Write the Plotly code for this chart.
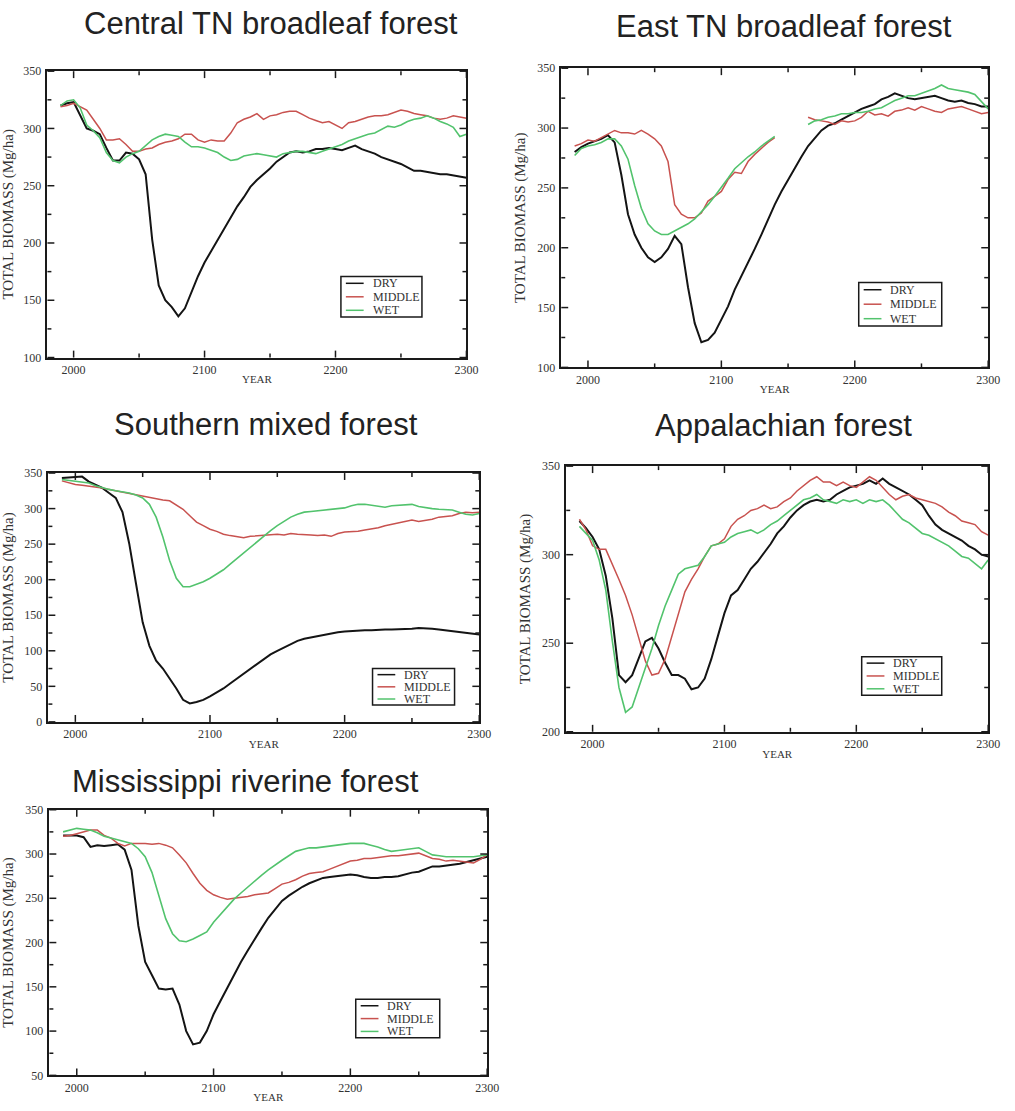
import plotly.graph_objects as go

# Simulation years (5-year steps)
YEARS = list(range(1990, 2301, 5))

# ---- Central TN broadleaf forest ----
CENTRAL_DRY = [320, 322, 323, 312, 300, 298, 295, 283, 272, 272, 279, 278, 273, 260, 203, 163,
               150, 144, 136, 143, 157, 171, 183, 193, 203, 213, 223, 232, 240, 249, 255, 260,
               265, 271, 275, 279, 280, 279, 280, 282, 282, 283, 282, 281, 283, 285, 282, 280,
               278, 275, 273, 271, 269, 266, 263, 263, 262, 261, 260, 260, 259, 258, 257]
CENTRAL_MIDDLE = [319, 320, 322, 319, 316, 308, 300, 290, 290, 291, 286, 280, 280, 282, 283, 286,
                  288, 289, 291, 295, 295, 290, 288, 290, 289, 289, 296, 305, 308, 310, 313, 308,
                  311, 312, 314, 315, 315, 312, 309, 307, 305, 306, 303, 300, 305, 306, 308, 310,
                  311, 311, 312, 314, 316, 315, 313, 312, 311, 309, 308, 309, 311, 310, 309]
CENTRAL_WET = [320, 324, 325, 318, 303, 298, 292, 279, 272, 270, 275, 278, 280, 285, 290, 293,
               295, 294, 293, 288, 284, 284, 283, 281, 279, 275, 272, 273, 276, 277, 278, 277,
               276, 275, 278, 279, 280, 280, 279, 278, 280, 282, 284, 286, 289, 291, 293, 295,
               296, 299, 302, 301, 303, 306, 308, 309, 311, 309, 306, 304, 301, 293, 295]

# ---- East TN broadleaf forest ----
EAST_DRY = [280, 284, 287, 289, 291, 294, 288, 261, 228, 211, 200, 192, 188, 192, 199, 210,
            203, 167, 137, 121, 123, 129, 140, 151, 165, 176, 187, 199, 211, 224, 236, 247,
            257, 267, 276, 285, 292, 298, 302, 304, 307, 310, 313, 316, 318, 320, 324, 326,
            329, 327, 325, 324, 325, 326, 327, 325, 323, 322, 323, 321, 320, 318, 318]
EAST_MIDDLE = [285, 287, 290, 289, 292, 295, 298, 296, 296, 295, 298, 295, 291, 285, 272, 236,
               228, 225, 225, 229, 239, 243, 247, 257, 263, 262, 272, 278, 283, 288, 292, None,
               None, None, None, 309, 307, 306, 305, 303, 306, 305, 306, 309, 314, 311, 312, 310,
               314, 315, 317, 315, 318, 316, 314, 313, 316, 317, 318, 316, 314, 312, 313]
EAST_WET = [277, 283, 285, 286, 288, 291, 291, 285, 274, 252, 233, 220, 214, 211, 211, 214,
            217, 220, 224, 230, 236, 243, 250, 258, 266, 271, 276, 280, 285, 289, 293, None,
            None, None, None, 303, 306, 307, 309, 310, 312, 312, 313, 313, 314, 316, 317, 320,
            323, 325, 327, 327, 329, 331, 333, 336, 333, 332, 331, 330, 328, 322, 316]

# ---- Southern mixed forest ----
SOUTH_DRY = [343, 344, 345, 345, 338, 334, 329, 322, 315, 295, 251, 195, 140, 107, 86, 75,
             61, 47, 31, 26, 28, 31, 36, 41, 47, 54, 61, 68, 75, 82, 89, 95,
             100, 105, 110, 114, 117, 119, 121, 123, 125, 126, 127, 128, 128, 129, 129, 130,
             130, 130, 130, 131, 131, 132, 132, 131, 130, 129, 128, 127, 125, 124, 123]
SOUTH_MIDDLE = [339, 336, 334, 333, 332, 330, 329, 327, 325, 323, 322, 320, 318, 316, 313, 312,
                311, 305, 299, 290, 281, 276, 271, 268, 264, 262, 260, 259, 261, 262, 262, 263,
                264, 263, 265, 264, 264, 263, 262, 263, 261, 265, 267, 267, 268, 270, 271, 273,
                276, 278, 281, 283, 284, 282, 283, 285, 288, 289, 290, 293, 295, 294, 295]
SOUTH_WET = [341, 340, 339, 337, 336, 332, 329, 327, 325, 324, 322, 319, 315, 306, 288, 260,
             227, 202, 190, 190, 193, 197, 202, 208, 214, 222, 230, 238, 246, 254, 262, 269,
             276, 282, 288, 292, 295, 296, 297, 298, 299, 300, 301, 304, 306, 306, 305, 303,
             302, 304, 305, 306, 306, 303, 301, 300, 299, 298, 298, 295, 292, 291, 293]

# ---- Appalachian forest ----
APPAL_DRY = [319, 315, 310, 303, 288, 264, 232, 228, 232, 241, 251, 253, 247, 239, 232, 232,
             230, 224, 225, 230, 241, 254, 267, 277, 280, 286, 292, 296, 301, 306, 312, 316,
             321, 325, 328, 330, 331, 330, 331, 334, 336, 338, 339, 340, 342, 340, 343, 340,
             338, 336, 334, 331, 328, 322, 317, 314, 312, 310, 308, 305, 303, 300, 299]
APPAL_MIDDLE = [320, 314, 305, 303, 303, 295, 286, 277, 266, 253, 240, 232, 233, 241, 254, 267,
                279, 286, 292, 299, 305, 306, 309, 316, 320, 322, 325, 326, 328, 326, 327, 330,
                332, 336, 339, 342, 344, 341, 341, 339, 341, 339, 338, 341, 344, 342, 338, 334,
                331, 333, 334, 332, 331, 330, 329, 327, 324, 322, 319, 318, 317, 313, 311]
APPAL_WET = [316, 312, 308, 297, 280, 251, 225, 211, 214, 225, 236, 247, 260, 271, 280, 289,
             292, 293, 294, 299, 305, 306, 307, 310, 312, 313, 314, 312, 314, 317, 319, 322,
             325, 328, 331, 332, 334, 331, 330, 329, 331, 330, 331, 329, 331, 330, 331, 328,
             324, 320, 318, 315, 312, 311, 309, 307, 305, 302, 299, 298, 295, 292, 297]

# ---- Mississippi riverine forest ----
MISS_DRY = [321, 321, 321, 319, 308, 310, 309, 310, 311, 305, 282, 219, 178, 163, 148, 147,
            148, 130, 100, 85, 87, 100, 119, 134, 149, 164, 178, 191, 204, 216, 228, 238,
            247, 253, 258, 263, 267, 270, 273, 274, 275, 276, 277, 276, 274, 273, 273, 274,
            274, 275, 277, 279, 280, 283, 286, 286, 287, 288, 289, 291, 293, 295, 297]
MISS_MIDDLE = [320, 321, 323, 325, 327, 327, 321, 318, 312, 309, 312, 312, 312, 311, 312, 310,
               307, 299, 290, 278, 267, 259, 254, 251, 249, 250, 251, 252, 254, 255, 256, 261,
               266, 268, 271, 275, 278, 279, 280, 283, 286, 289, 292, 293, 295, 295, 296, 297,
               298, 298, 299, 300, 301, 298, 295, 294, 292, 293, 292, 291, 290, 294, 299]
MISS_WET = [325, 327, 329, 328, 327, 324, 320, 318, 316, 314, 312, 306, 297, 279, 253, 227,
            210, 202, 201, 204, 208, 212, 223, 232, 241, 249, 256, 263, 269, 276, 282, 288,
            293, 298, 303, 305, 307, 307, 308, 309, 310, 311, 312, 312, 312, 310, 308, 305,
            303, 304, 305, 306, 307, 303, 299, 298, 297, 297, 297, 297, 297, 298, 299]

SCENARIOS = ["DRY", "MIDDLE", "WET"]
COLORS = {"DRY": "#141414", "MIDDLE": "#c8524f", "WET": "#52c36d"}
WIDTHS = {"DRY": 2.0, "MIDDLE": 1.5, "WET": 1.6}

X_RANGE = (1980, 2300)
X_MAJOR = [2000, 2100, 2200, 2300]
X_MINOR = [2050, 2150, 2250]

W, H = 1015, 1111

# name, series, y-range, plot box (left, top, right, bottom) in px,
# title centre (x, y) in px, legend box (left, top, right, bottom) in px
PANELS = [
    ("Central TN broadleaf forest", [CENTRAL_DRY, CENTRAL_MIDDLE, CENTRAL_WET], (100, 350),
     (48, 65, 472, 355), (274, 17), (345, 273, 427, 314)),
    ("East TN broadleaf forest", [EAST_DRY, EAST_MIDDLE, EAST_WET], (100, 350),
     (568, 62, 1000, 365), (793, 20), (869, 279, 953, 323)),
    ("Southern mixed forest", [SOUTH_DRY, SOUTH_MIDDLE, SOUTH_WET], (0, 350),
     (49, 472, 485, 724), (269, 423), (377, 670, 460, 707)),
    ("Appalachian forest", [APPAL_DRY, APPAL_MIDDLE, APPAL_WET], (200, 350),
     (573, 465, 1000, 734), (793, 424), (872, 658, 953, 697)),
    ("Mississippi riverine forest", [MISS_DRY, MISS_MIDDLE, MISS_WET], (50, 350),
     (50, 813, 493, 1082), (248, 784), (360, 1005, 445, 1044)),
]

for _, series, *_rest in PANELS:
    for s in series:
        assert len(s) == len(YEARS)


def px_x(v):
    return v / W


def px_y(v):
    return 1 - v / H


SERIF = "Liberation Serif, Times New Roman, serif"
SANS = "Liberation Sans, Arial, sans-serif"
AXIS_INK = "#1a1a1a"
MAJOR_LEN, MINOR_LEN = 7, 4

fig = go.Figure()
shapes, annotations = [], []

for i, (title, series, yrange, box, tpos, lbox) in enumerate(PANELS, start=1):
    sfx = "" if i == 1 else str(i)
    xa, ya = "x" + sfx, "y" + sfx
    for name, values in zip(SCENARIOS, series):
        fig.add_trace(go.Scatter(
            x=YEARS, y=values, xaxis=xa, yaxis=ya, mode="lines", name=name,
            line=dict(color=COLORS[name], width=WIDTHS[name]),
            connectgaps=False, showlegend=False,
        ))

    left, top, right, bottom = box
    frame = dict(showline=True, linecolor=AXIS_INK, linewidth=1.5, mirror=True,
                 ticks="", showgrid=False, zeroline=False,
                 tickfont=dict(family=SERIF, size=12, color="#333"))
    fig.update_layout({
        "xaxis" + sfx: dict(
            frame, domain=[px_x(left), px_x(right)], anchor=ya,
            range=list(X_RANGE), tickmode="array", tickvals=X_MAJOR,
            ticklabelstandoff=0,
            title=dict(text="YEAR", font=dict(family=SERIF, size=11, color="#333"), standoff=0),
        ),
        "yaxis" + sfx: dict(
            frame, domain=[px_y(bottom), px_y(top)], anchor=xa,
            range=list(yrange), tick0=0, dtick=50,
            ticklabelstandoff=2,
            title=dict(text="TOTAL BIOMASS (Mg/ha)",
                       font=dict(family=SERIF, size=15, color="#333"), standoff=8),
        ),
    })

    # inward tick marks on all four sides of the frame, placed on the frame's
    # linear year / biomass scale
    def year_px(v):
        return left + (v - X_RANGE[0]) / (X_RANGE[1] - X_RANGE[0]) * (right - left)

    def mass_px(v):
        return bottom - (v - yrange[0]) / (yrange[1] - yrange[0]) * (bottom - top)

    y_major = list(range(yrange[0], yrange[1] + 1, 50))
    y_minor = list(range(yrange[0] + 25, yrange[1], 50))
    for vals, ln in ((X_MAJOR, MAJOR_LEN), (X_MINOR, MINOR_LEN)):
        for v in vals:
            xp = year_px(v)
            for a, b in ((bottom, bottom - ln), (top, top + ln)):
                shapes.append(dict(type="line", xref="paper", yref="paper",
                                   x0=px_x(xp), x1=px_x(xp), y0=px_y(a), y1=px_y(b),
                                   line=dict(color=AXIS_INK, width=1.5)))
    for vals, ln in ((y_major, MAJOR_LEN), (y_minor, MINOR_LEN)):
        for v in vals:
            yp = mass_px(v)
            for a, b in ((left, left + ln), (right, right - ln)):
                shapes.append(dict(type="line", xref="paper", yref="paper",
                                   x0=px_x(a), x1=px_x(b), y0=px_y(yp), y1=px_y(yp),
                                   line=dict(color=AXIS_INK, width=1.5)))

    # panel heading
    annotations.append(dict(
        text=title, xref="paper", yref="paper", x=px_x(tpos[0]), y=px_y(tpos[1]),
        xanchor="center", yanchor="middle", showarrow=False,
        font=dict(family=SANS, size=31, color="#222"),
    ))

    # framed key in the lower right of each panel
    ll, lt, lr, lb = lbox
    shapes.append(dict(
        type="rect", xref="paper", yref="paper",
        x0=px_x(ll), x1=px_x(lr), y0=px_y(lb), y1=px_y(lt),
        line=dict(color=AXIS_INK, width=1.5), fillcolor="white",
    ))
    row_h = (lb - lt) / 3.0
    for k, name in enumerate(SCENARIOS):
        cy = lt + row_h * (k + 0.5)
        shapes.append(dict(
            type="line", xref="paper", yref="paper",
            x0=px_x(ll + 5), x1=px_x(ll + 23), y0=px_y(cy), y1=px_y(cy),
            line=dict(color=COLORS[name], width=1.5),
        ))
        annotations.append(dict(
            text=name, xref="paper", yref="paper", x=px_x(ll + 30), y=px_y(cy),
            xanchor="left", yanchor="middle", showarrow=False,
            font=dict(family=SERIF, size=12, color="#333"),
        ))

fig.update_layout(
    width=W, height=H,
    margin=dict(l=0, r=0, t=0, b=0),
    paper_bgcolor="white", plot_bgcolor="white",
    showlegend=False,
    shapes=shapes, annotations=annotations,
)
fig.write_html("out.html")
